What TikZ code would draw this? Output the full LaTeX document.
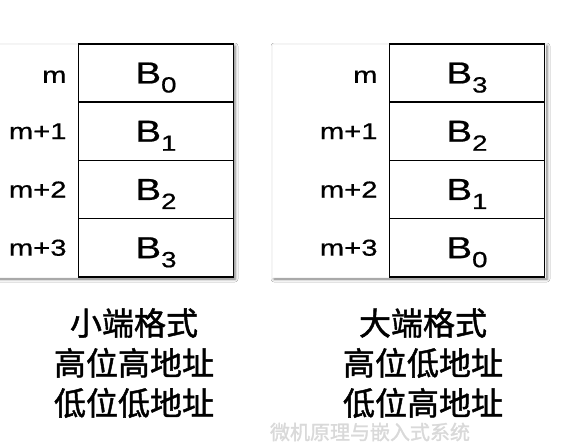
\documentclass[tikz,border=0pt]{standalone}
\usepackage{fontspec}
\setmainfont[FakeBold=0.6]{Liberation Sans}
\newfontfamily\cjk[FakeBold=1.4]{Noto Sans CJK SC}
\usepackage{tikz}
\usetikzlibrary{shadows.blur}

\newcommand{\wide}[1]{\scalebox{1.27}[1]{#1}}
\newcommand{\byte}[1]{\scalebox{1.26}[1]{B\raisebox{-9pt}[0pt][0pt]{\fontsize{22}{22}\selectfont #1}}}

\tikzset{
  panel/.style={fill=white, draw=gray!8, blur shadow={shadow xshift=2pt, shadow yshift=-2pt, shadow blur radius=3pt, shadow opacity=55}},
  cell/.style={draw, line width=1.5pt, minimum width=155pt, minimum height=58.25pt, inner sep=0pt, font=\fontsize{30.5}{30.5}\selectfont},
  addr/.style={anchor=east, inner sep=0pt, font=\fontsize{23}{23}\selectfont},
  note/.style={align=center, font=\cjk\fontsize{32}{40}\selectfont},
  wmark/.style={text=gray!30, font=\cjk\fontsize{20}{20}\selectfont},
}

\begin{document}
\begin{tikzpicture}[x=1pt,y=-1pt]
    \useasboundingbox (0,0) rectangle (574,447);
    \fill[white] (0,0) rectangle (574,447);
    % the two panels
    \draw[panel] (-10,44) rectangle (233,277);
    \draw[panel] (272,44) rectangle (545,277);
    % little endian
    \node[cell] (L0) at (156,73) {\byte{0}};
    \node[cell] (L1) at (156,131.25) {\byte{1}};
    \node[cell] (L2) at (156,189.5) {\byte{2}};
    \node[cell] (L3) at (156,247.75) {\byte{3}};
    \node[addr] (la0) at ([xshift=-11pt,yshift=-2pt]L0.west) {\wide{m\vphantom{1}}};
    \node[addr] (la1) at ([xshift=-11pt]L1.west) {\wide{m+1}};
    \node[addr] (la2) at ([xshift=-11pt]L2.west) {\wide{m+2}};
    \node[addr] (la3) at ([xshift=-11pt]L3.west) {\wide{m+3}};
    % big endian
    \node[cell] (R0) at (467,73) {\byte{3}};
    \node[cell] (R1) at (467,131.25) {\byte{2}};
    \node[cell] (R2) at (467,189.5) {\byte{1}};
    \node[cell] (R3) at (467,247.75) {\byte{0}};
    \node[addr] (ra0) at ([xshift=-11pt,yshift=-2pt]R0.west) {\wide{m\vphantom{1}}};
    \node[addr] (ra1) at ([xshift=-11pt]R1.west) {\wide{m+1}};
    \node[addr] (ra2) at ([xshift=-11pt]R2.west) {\wide{m+2}};
    \node[addr] (ra3) at ([xshift=-11pt]R3.west) {\wide{m+3}};
    % captions
    \node[note] (littletxt) at (134,363) {小端格式\\高位高地址\\低位低地址};
    \node[note] (bigtxt) at (423,363) {大端格式\\高位低地址\\低位高地址};
    \node[wmark] (wm) at (370,432) {微机原理与嵌入式系统};
\end{tikzpicture}
\end{document}
